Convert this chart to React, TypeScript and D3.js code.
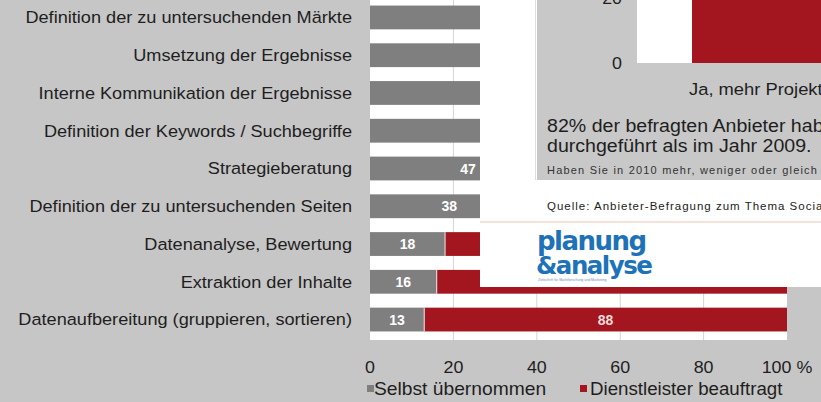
import React from "react";
import * as d3 from "d3";

const categories = [
  "Definition der zu untersuchenden Märkte",
  "Umsetzung der Ergebnisse",
  "Interne Kommunikation der Ergebnisse",
  "Definition der Keywords / Suchbegriffe",
  "Strategieberatung",
  "Definition der zu untersuchenden Seiten",
  "Datenanalyse, Bewertung",
  "Extraktion der Inhalte",
  "Datenaufbereitung (gruppieren, sortieren)",
];
const selbst = [80, 74, 68, 57, 47, 38, 18, 16, 13];
const dienstleister = [20, 26, 32, 43, 53, 62, 82, 84, 88];
const xTicks = [0, 20, 40, 60, 80, 100];
const xTickLabels = ["0", "20", "40", "60", "80", "100 %"];
const seriesNames = ["Selbst übernommen", "Dienstleister beauftragt"];

const insetCategories = ["Ja, mehr Projekte"];
const insetValues = [82];
const insetTicks = [0, 20];
const insetLines = [
  "82% der befragten Anbieter haben",
  "durchgeführt als im Jahr 2009.",
];
const insetQuestion = "Haben Sie in 2010 mehr, weniger oder gleich viele";
const insetSource = "Quelle: Anbieter-Befragung zum Thema Social Media";

const W = 821;
const H = 402;
const BG = "#c6c6c6";
const GRAY = "#7f7f7f";
const RED = "#a3161f";
const FONT = "'Liberation Sans', Arial, sans-serif";

type STextProps = {
  x: number;
  y: number;
  sx?: number;
  anchor?: "start" | "middle" | "end";
  size: number;
  fill?: string;
  weight?: string;
  spacing?: number;
  children: React.ReactNode;
};

function SText({ x, y, sx = 1.1, anchor = "start", size, fill = "#1e1e1e", weight, spacing, children }: STextProps) {
  return (
    <g transform={`translate(${x},${y}) scale(${sx},1)`}>
      <text
        x={0}
        y={0}
        dy="0.36em"
        textAnchor={anchor}
        fontSize={size}
        fill={fill}
        fontWeight={weight}
        letterSpacing={spacing}
      >
        {children}
      </text>
    </g>
  );
}

export default function App() {
  const x = d3.scaleLinear().domain([0, 100]).range([370, 787]);
  const y = d3
    .scaleBand<string>()
    .domain(categories)
    .range([-2, 339])
    .paddingInner(0.37)
    .paddingOuter(0.2);
  const bh = y.bandwidth();

  // inset chart scales
  const iy = d3.scaleLinear().domain([0, 20]).range([63, -2]);
  const ix = d3.scaleBand<string>().domain(insetCategories).range([692, 960]).padding(0);

  return (
    <svg
      width={W}
      height={H}
      style={{ position: "absolute", left: 0, top: 0, background: BG }}
      fontFamily={FONT}
    >
      <rect x={0} y={0} width={W} height={H} fill={BG} />
      {/* plot area */}
      <rect x={x(0)} y={0} width={x(100) - x(0)} height={340} fill="#ffffff" />
      {xTicks.slice(1, -1).map((t) => (
        <line key={t} x1={x(t)} x2={x(t)} y1={0} y2={340} stroke="#d4d4d4" strokeWidth={1} />
      ))}
      {categories.map((c, i) => {
        const yy = y(c)!;
        const g = selbst[i];
        const r = dienstleister[i];
        const redEnd = Math.min(x(g + r), x(100));
        return (
          <g key={c}>
            <rect x={x(0)} y={yy} width={x(g) - x(0)} height={bh} fill={GRAY} />
            <rect x={x(g)} y={yy} width={redEnd - x(g)} height={bh} fill={RED} />
            <line x1={x(g)} x2={x(g)} y1={yy} y2={yy + bh} stroke="#e8e8e8" strokeWidth={1} />
            <SText x={(x(0) + x(g)) / 2} y={yy + bh / 2} anchor="middle" fill="#ffffff" weight="bold" size={14} sx={1}>
              {g}
            </SText>
            <SText x={(x(g) + redEnd) / 2} y={yy + bh / 2} anchor="middle" fill="#f4dcdc" weight="bold" size={14} sx={1}>
              {r}
            </SText>
            <SText x={352} y={yy + bh / 2} anchor="end" size={16.5}>
              {c}
            </SText>
          </g>
        );
      })}
      {/* x axis labels */}
      {xTicks.map((t, i) => (
        <SText key={t} x={x(t)} y={367} anchor="middle" size={17} sx={1.05}>
          {xTickLabels[i]}
        </SText>
      ))}
      {/* legend */}
      <rect x={367} y={385} width={7} height={7} fill={GRAY} />
      <SText x={374} y={389} size={17.5}>
        {seriesNames[0]}
      </SText>
      <rect x={580} y={385} width={7} height={7} fill={RED} />
      <SText x={590} y={389} size={17.5} sx={1.07}>
        {seriesNames[1]}
      </SText>

      {/* overlaid inset image */}
      <rect x={480} y={0} width={W - 480} height={287} fill="#ffffff" />
      <line x1={535.5} x2={535.5} y1={0} y2={180} stroke="#dcdcdc" />
      <rect x={537} y={0} width={W - 537} height={180} fill="#c8c8c8" />
      <rect x={637} y={0} width={W - 637} height={iy(0)} fill="#ffffff" />
      {insetCategories.map((c, i) => (
        <g key={c}>
          <rect
            x={ix(c)!}
            y={iy(insetValues[i])}
            width={ix.bandwidth()}
            height={iy(0) - iy(insetValues[i])}
            fill={RED}
          />
          <SText x={689} y={89} size={17} sx={1.08}>
            {c}
          </SText>
        </g>
      ))}
      {insetTicks.map((t) => (
        <SText key={t} x={622} y={iy(t)} anchor="end" size={17} sx={1.05}>
          {t}
        </SText>
      ))}
      {insetLines.map((l, i) => (
        <SText key={l} x={547} y={126 + i * 20} size={17.5} sx={1.12}>
          {l}
        </SText>
      ))}
      <SText x={547} y={170} size={11} sx={1} spacing={1.2} fill="#333333">
        {insetQuestion}
      </SText>
      <SText x={547} y={206} size={11.5} sx={1} spacing={1.0} fill="#222222">
        {insetSource}
      </SText>
      <line x1={480} x2={W} y1={222} y2={222} stroke="#f3d9cc" strokeWidth={1.5} />
      <text
        x={537}
        y={250}
        fill="#1d72b8"
        fontSize={26}
        fontWeight="900"
        fontFamily="'DejaVu Sans', sans-serif"
        letterSpacing={-1.5}
      >
        planung
      </text>
      <text
        x={536}
        y={274}
        fill="#1d72b8"
        fontSize={24.5}
        fontWeight="900"
        fontFamily="'DejaVu Sans', sans-serif"
        letterSpacing={-1.5}
      >
        &amp;analyse
      </text>
      <text x={538} y={281} fill="#6d8fb0" fontSize={3.5}>
        Zeitschrift für Marktforschung und Marketing
      </text>
    </svg>
  );
}
